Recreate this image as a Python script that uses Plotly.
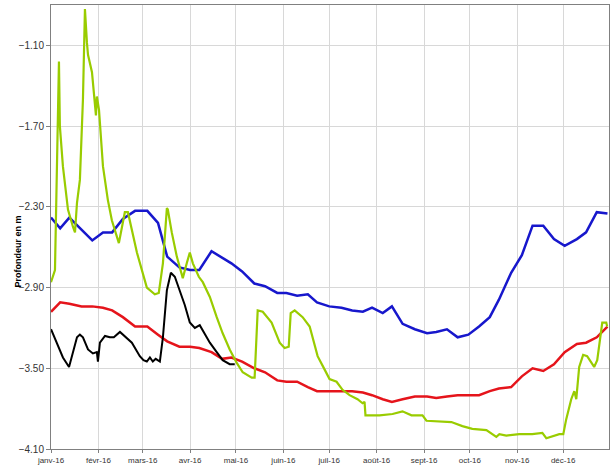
import pandas as pd
import plotly.graph_objects as go

# ---- data (days since 2016-01-01, depth in m) ----
weekly_days = [0, 6, 12, 20, 27, 34, 40, 47, 55, 63, 70, 76, 84, 91, 97, 105, 112, 118, 125, 133,
               140, 148, 154, 161, 168, 174, 182, 190, 197, 204, 210, 217, 223, 230, 238, 246, 252,
               259, 266, 273, 280, 287, 293, 301, 308, 315, 322, 329, 336, 344, 350, 357, 364]
blue_values = [-2.38, -2.46, -2.38, -2.47, -2.55, -2.49, -2.49, -2.39, -2.33, -2.33, -2.42, -2.67,
               -2.75, -2.77, -2.77, -2.63, -2.68, -2.72, -2.78, -2.87, -2.89, -2.94, -2.94, -2.96,
               -2.95, -3.01, -3.04, -3.05, -3.07, -3.08, -3.05, -3.09, -3.04, -3.17, -3.21, -3.24,
               -3.23, -3.21, -3.27, -3.25, -3.19, -3.12, -2.99, -2.79, -2.66, -2.44, -2.44, -2.54,
               -2.59, -2.54, -2.49, -2.34, -2.35]
red_values = [-3.08, -3.01, -3.02, -3.04, -3.04, -3.05, -3.07, -3.12, -3.19, -3.19, -3.25, -3.30,
              -3.34, -3.34, -3.35, -3.38, -3.43, -3.42, -3.45, -3.50, -3.53, -3.59, -3.60, -3.60,
              -3.64, -3.67, -3.67, -3.67, -3.67, -3.68, -3.70, -3.73, -3.75, -3.73, -3.71, -3.71,
              -3.72, -3.71, -3.70, -3.70, -3.70, -3.67, -3.65, -3.64, -3.56, -3.50, -3.52, -3.47,
              -3.38, -3.32, -3.31, -3.27, -3.19]

black_days = [0, 3.9, 7.8, 11.8, 14.4, 17, 18.9, 20.9, 24.2, 27.4, 30, 30.7, 32, 35.3, 38.5, 41.1,
              45.1, 47, 52.9, 58.1, 60.5, 62.7, 64.7, 66.6, 68.5, 71.2, 73.2, 75.8, 78.4, 81, 84.3,
              87.5, 90.8, 94.1, 97.3, 100.6, 103.9, 108.4, 112.3, 116.9, 120.2]
black_values = [-3.21, -3.31, -3.42, -3.49, -3.38, -3.27, -3.25, -3.27, -3.36, -3.39, -3.38, -3.45,
                -3.31, -3.26, -3.27, -3.27, -3.23, -3.25, -3.31, -3.41, -3.44, -3.45, -3.42, -3.45,
                -3.43, -3.45, -3.27, -2.92, -2.79, -2.82, -2.92, -3.03, -3.16, -3.20, -3.18, -3.25,
                -3.31, -3.38, -3.44, -3.47, -3.47]

green_days = [0, 2.6, 5.2, 5.8, 7.8, 11.1, 14.4, 15.7, 17.0, 18.9, 20.9, 22.2, 23.5, 24.2, 26.8,
              29.4, 30.0, 31.4, 34.0, 37.2, 39.8, 43.1, 44.4, 48.3, 50.3, 56.2, 62.7, 67.9, 70.5,
              73.2, 75.8, 76.4, 79.0, 82.3, 86.2, 88.8, 90.8, 92.8, 96.7, 99.3, 103.9, 108.4, 112.3,
              116.9, 121.5, 125.4, 131.3, 133.2, 135.2, 138.5, 144.3, 149.6, 152.8, 155.5, 156.8,
              159.4, 164.6, 169.2, 174.4, 179.0, 182.2, 186.8, 190.7, 195.3, 200.5, 203.8, 205.1,
              205.7, 214.9, 223.4, 229.9, 235.8, 243.0, 245.6, 261.9, 269.1, 275.6, 284.8, 291.3,
              293.3, 297.8, 306.3, 314.8, 321.4, 324.0, 332.5, 335.1, 337.0, 340.3, 342.3, 343.6,
              345.5, 348.1, 350.7, 355.3, 357.3, 360.6, 363.2, 363.8]
green_values = [-2.86, -2.77, -1.22, -1.70, -2.00, -2.32, -2.45, -2.49, -2.27, -2.10, -1.50, -0.83,
                -1.08, -1.17, -1.30, -1.62, -1.48, -1.58, -2.00, -2.25, -2.40, -2.52, -2.57, -2.34,
                -2.34, -2.64, -2.90, -2.95, -2.94, -2.72, -2.31, -2.32, -2.49, -2.67, -2.83, -2.72,
                -2.64, -2.72, -2.82, -2.86, -2.97, -3.12, -3.24, -3.36, -3.46, -3.53, -3.57, -3.57,
                -3.07, -3.08, -3.16, -3.31, -3.35, -3.34, -3.09, -3.07, -3.12, -3.19, -3.41, -3.51,
                -3.58, -3.60, -3.66, -3.70, -3.73, -3.76, -3.75, -3.85, -3.85, -3.84, -3.82, -3.85,
                -3.85, -3.89, -3.90, -3.93, -3.95, -3.96, -4.01, -3.99, -4.00, -3.99, -3.99, -3.98,
                -4.02, -3.99, -3.99, -3.88, -3.73, -3.67, -3.73, -3.49, -3.40, -3.41, -3.49, -3.44,
                -3.16, -3.16, -3.19]

month_ticks = ["2016-01-01", "2016-02-01", "2016-03-01", "2016-04-01", "2016-05-01", "2016-06-01",
               "2016-07-01", "2016-08-01", "2016-09-01", "2016-10-01", "2016-11-01", "2016-12-01"]
month_labels = ["janv-16", "févr-16", "mars-16", "avr-16", "mai-16", "juin-16",
                "juil-16", "août-16", "sept-16", "oct-16", "nov-16", "déc-16"]
y_ticks = [-4.10, -3.50, -2.90, -2.30, -1.70, -1.10]

start = pd.Timestamp("2016-01-01")


def to_dates(days):
    return [start + pd.Timedelta(days=float(d)) for d in days]


fig = go.Figure()
fig.add_trace(go.Scatter(x=to_dates(weekly_days), y=blue_values, mode="lines",
                         line=dict(color="#1717cc", width=2.5)))
fig.add_trace(go.Scatter(x=to_dates(weekly_days), y=red_values, mode="lines",
                         line=dict(color="#e5141b", width=2.5)))
fig.add_trace(go.Scatter(x=to_dates(green_days), y=green_values, mode="lines",
                         line=dict(color="#99cc00", width=2.2)))
fig.add_trace(go.Scatter(x=to_dates(black_days), y=black_values, mode="lines",
                         line=dict(color="#000000", width=2)))

fig.update_layout(
    width=616, height=465,
    margin=dict(l=51, r=7, t=5, b=16, autoexpand=False),
    paper_bgcolor="white", plot_bgcolor="white",
    showlegend=False,
    font=dict(family="Liberation Sans, Arial, sans-serif", color="#333333"),
    xaxis=dict(
        type="date", automargin=False,
        range=["2016-01-01", "2016-12-31"],
        tickvals=month_ticks, ticktext=month_labels,
        tickfont=dict(family="Liberation Sans, Arial", size=8, color="#333"),
        showgrid=True, gridcolor="#d8d8d8", gridwidth=1,
        showline=True, linecolor="#808080", linewidth=1, mirror=True,
        ticks="outside", ticklen=3, tickcolor="#808080",
        zeroline=False,
    ),
    yaxis=dict(
        automargin=False,
        range=[-4.10, -0.80],
        tickvals=y_ticks, tickformat=".2f",
        tickfont=dict(family="Liberation Sans, Arial", size=10, color="#333"),
        showgrid=True, gridcolor="#d8d8d8", gridwidth=1,
        showline=True, linecolor="#808080", linewidth=1, mirror=True,
        ticks="outside", ticklen=4, tickcolor="#808080",
        zeroline=False,
    ),
    annotations=[dict(
        text="<b>Profondeur en m</b>", xref="paper", yref="paper",
        x=-0.059, y=0.445, xanchor="center", yanchor="middle",
        textangle=-90, showarrow=False,
        font=dict(family="Liberation Sans, Arial", size=9, color="#000"),
    )],
)

fig.write_html(
    "out.html",
    config={"displayModeBar": False},
    post_script="document.body.style.margin='0';document.body.style.padding='0';",
)
